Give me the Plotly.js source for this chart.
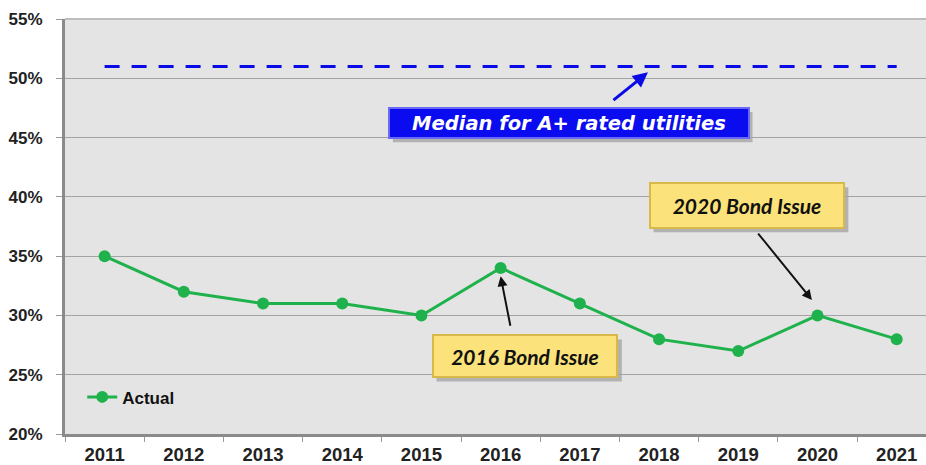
<!DOCTYPE html>
<html><head><meta charset="utf-8">
<script src="https://cdn.plot.ly/plotly-3.0.1.min.js"></script>
<style>html,body{margin:0;padding:0;background:#fff}#c{width:926px;height:465px}</style>
</head><body><div id="c"></div>
<script>
const years = ['2011','2012','2013','2014','2015','2016','2017','2018','2019','2020','2021'];
const actual = [35, 32, 31, 31, 30, 34, 31, 28, 27, 30, 28];
const median = [51, 51, 51, 51, 51, 51, 51, 51, 51, 51, 51];
const yTicks = [20, 25, 30, 35, 40, 45, 50, 55];
const yTickLabels = ['20%','25%','30%','35%','40%','45%','50%','55%'];

const yTickFont = {family:'Liberation Sans, Arial, sans-serif', size:17, color:'#222', weight:'bold'};
const xTickFont = {family:'Liberation Sans, Arial, sans-serif', size:18.5, color:'#222', weight:'bold'};
const boxFont = {family:'Lato, Liberation Sans, sans-serif', size:21, color:'#111', weight:'bold', style:'italic'};
const shadow = 'rgba(0,0,0,0.22)';

const traces = [
  {x: years, y: median, type:'scatter', mode:'lines', showlegend:false,
   line:{color:'#0a0ae6', width:3, dash:'15px,12px'}, hoverinfo:'skip'},
  {x: years, y: actual, type:'scatter', mode:'lines+markers', name:'Actual',
   line:{color:'#1fb24c', width:3}, marker:{color:'#1fb24c', size:12}}
];

const layout = {
  width:926, height:465,
  margin:{l:65, r:0, t:19, b:31},
  paper_bgcolor:'#ffffff', plot_bgcolor:'#e4e4e4',
  showlegend:true,
  legend:{x:0.02, y:0.045, xanchor:'left', yanchor:'bottom', bgcolor:'rgba(0,0,0,0)',
          font:{family:'Liberation Sans, Arial, sans-serif', size:17, color:'#111', weight:'bold'}},
  xaxis:{type:'category', range:[-0.5, 10.37], showgrid:false, zeroline:false,
         showline:true, linecolor:'#8a8a8a', linewidth:3, mirror:false,
         ticks:'outside', tickson:'boundaries', ticklen:5, tickcolor:'#999',
         tickfont:xTickFont, ticklabelstandoff:2, fixedrange:true},
  yaxis:{range:[20,55], tickvals:yTicks, ticktext:yTickLabels, showgrid:true,
         gridcolor:'#a3a3a3', gridwidth:1, zeroline:false,
         showline:true, linecolor:'#8a8a8a', linewidth:3,
         ticks:'outside', ticklen:6, tickcolor:'#999', tickfont:yTickFont,
         ticklabelstandoff:10, fixedrange:true},
  shapes:[
    {type:'line', xref:'paper', yref:'paper', x0:0, x1:1, y0:1, y1:1, line:{color:'#bdbdbd', width:2}},
    {type:'rect', xref:'x', yref:'y', layer:'below', x0:3.64, x1:8.18, y0:47.15, y1:44.61, line:{width:0}, fillcolor:shadow},
    {type:'rect', xref:'x', yref:'y', layer:'below', x0:4.19, x1:6.53, y0:27.97, y1:24.43, line:{width:0}, fillcolor:shadow},
    {type:'rect', xref:'x', yref:'y', layer:'below', x0:6.93, x1:9.39, y0:40.81, y1:37.01, line:{width:0}, fillcolor:shadow}
  ],
  annotations:[
    {x:6.86, y:50.5, xref:'x', yref:'y', text:'', showarrow:true, ax:-36, ay:29,
     arrowhead:2, arrowsize:1, arrowwidth:3, arrowcolor:'#0a0ae6'},
    {x:5.86, y:46.2, xref:'x', yref:'y', text:'Median for A+ rated utilities', showarrow:false,
     width:356, height:26, bgcolor:'#0b0bef', bordercolor:'#6a6af5', borderwidth:2, borderpad:1,
     font:{family:'DejaVu Sans, Verdana, sans-serif', size:19.5, color:'#ffffff', weight:'bold', style:'italic'}},
    {x:5, y:33.3, xref:'x', yref:'y', text:'', showarrow:true, ax:10, ay:51,
     arrowhead:2, arrowsize:1, arrowwidth:2, arrowcolor:'#111'},
    {x:5.31, y:26.6, xref:'x', yref:'y', text:'2016 Bond Issue', showarrow:false,
     width:180, height:38, bgcolor:'#fbe27a', bordercolor:'#d9b84a', borderwidth:2, borderpad:1,
     font:boxFont},
    {x:8.93, y:31.3, xref:'x', yref:'y', text:'', showarrow:true, ax:-55, ay:-68,
     arrowhead:2, arrowsize:1, arrowwidth:2, arrowcolor:'#111'},
    {x:8.11, y:39.3, xref:'x', yref:'y', text:'2020 Bond Issue', showarrow:false,
     width:190, height:41, bgcolor:'#fbe27a', bordercolor:'#d9b84a', borderwidth:2, borderpad:1,
     font:boxFont}
  ]
};
Plotly.newPlot('c', traces, layout, {staticPlot:true, displayModeBar:false});
</script></body></html>
